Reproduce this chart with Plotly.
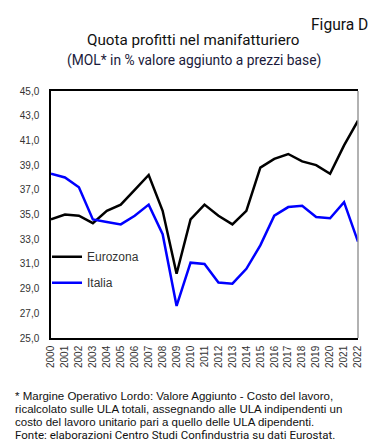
import plotly.graph_objects as go

years = [str(y) for y in range(2000, 2023)]
eurozona = [34.6, 35.0, 34.9, 34.3, 35.3, 35.8, 37.0, 38.2, 35.3, 30.2, 34.6, 35.8,
            34.9, 34.2, 35.3, 38.8, 39.5, 39.9, 39.3, 39.0, 38.3, 40.6, 42.6]
italia = [38.3, 38.0, 37.2, 34.6, 34.4, 34.2, 34.9, 35.8, 33.4, 27.6, 31.1, 31.0,
          29.5, 29.4, 30.6, 32.5, 34.9, 35.6, 35.7, 34.8, 34.7, 36.0, 32.8]
y_ticks = [25, 27, 29, 31, 33, 35, 37, 39, 41, 43, 45]

fig = go.Figure()
fig.add_trace(go.Scatter(x=years, y=eurozona, mode="lines", name="Eurozona",
                         line=dict(color="#000000", width=2.5), legendgroup="a"))
fig.add_trace(go.Scatter(x=years, y=italia, mode="lines", name="Italia",
                         line=dict(color="#0000ff", width=2.5), legendgroup="b"))

tick_font = dict(family="Liberation Sans, Arial", size=10, color="#333333")
fig.update_layout(
    width=378, height=443,
    margin=dict(l=40, r=28, t=83, b=113),
    paper_bgcolor="white", plot_bgcolor="white",
    separators=",.",
    showlegend=True,
    legend=dict(x=-0.013, y=0.388, xanchor="left", yanchor="top",
                bgcolor="rgba(0,0,0,0)", tracegroupgap=7,
                font=dict(family="Liberation Sans, Arial", size=12, color="#333333")),
    xaxis=dict(type="category", showgrid=False, showline=True, linecolor="black",
               linewidth=1.5, mirror=True, ticks="", tickangle=-90,
               tickfont=tick_font, ticklabelstandoff=2),
    yaxis=dict(range=[25, 45], tickvals=y_ticks, tickformat=".1f", showgrid=False,
               showline=True, linecolor="black", linewidth=1.5, ticks="",
               tickfont=tick_font, zeroline=False, ticklabelstandoff=8),
    shapes=[dict(type="line", xref="paper", yref="paper", x0=1, x1=1, y0=0, y1=1,
                 line=dict(color="#999999", width=1.5))],
)

note_font = dict(family="Liberation Sans, Arial", size=11.5, color="#111111")
ann = [
    dict(text="Figura D", x=361, y=17, font=dict(family="Roboto", size=15.6, color="#111111"),
         xanchor="right"),
    dict(text="Quota profitti nel manifatturiero", x=183.5, y=32,
         font=dict(family="Roboto", size=15.2, color="#111111"), xanchor="center"),
    dict(text="(MOL* in % valore aggiunto a prezzi base)", x=184.5, y=52,
         font=dict(family="Roboto", size=13.8, color="#1a1a3a"), xanchor="center"),
    dict(text="* Margine Operativo Lordo: Valore Aggiunto - Costo del lavoro,", x=3, y=387.5,
         font=note_font, xanchor="left"),
    dict(text="ricalcolato sulle ULA totali, assegnando alle ULA indipendenti un", x=3, y=400.7,
         font=note_font, xanchor="left"),
    dict(text="costo del lavoro unitario pari a quello delle ULA dipendenti.", x=3, y=413.9,
         font=note_font, xanchor="left"),
    dict(text="Fonte: elaborazioni Centro Studi Confindustria su dati Eurostat.", x=3, y=427.1,
         font=dict(family="Roboto", size=11.5, color="#111111"), xanchor="left"),
]
for a in ann:
    fig.add_annotation(xref="paper", yref="paper", showarrow=False, yanchor="middle",
                       x=(a["x"] - 40) / 310, y=(330 - a["y"]) / 247,
                       text=a["text"], font=a["font"], xanchor=a["xanchor"],
                       borderpad=0)

fig.write_html("out.html")
